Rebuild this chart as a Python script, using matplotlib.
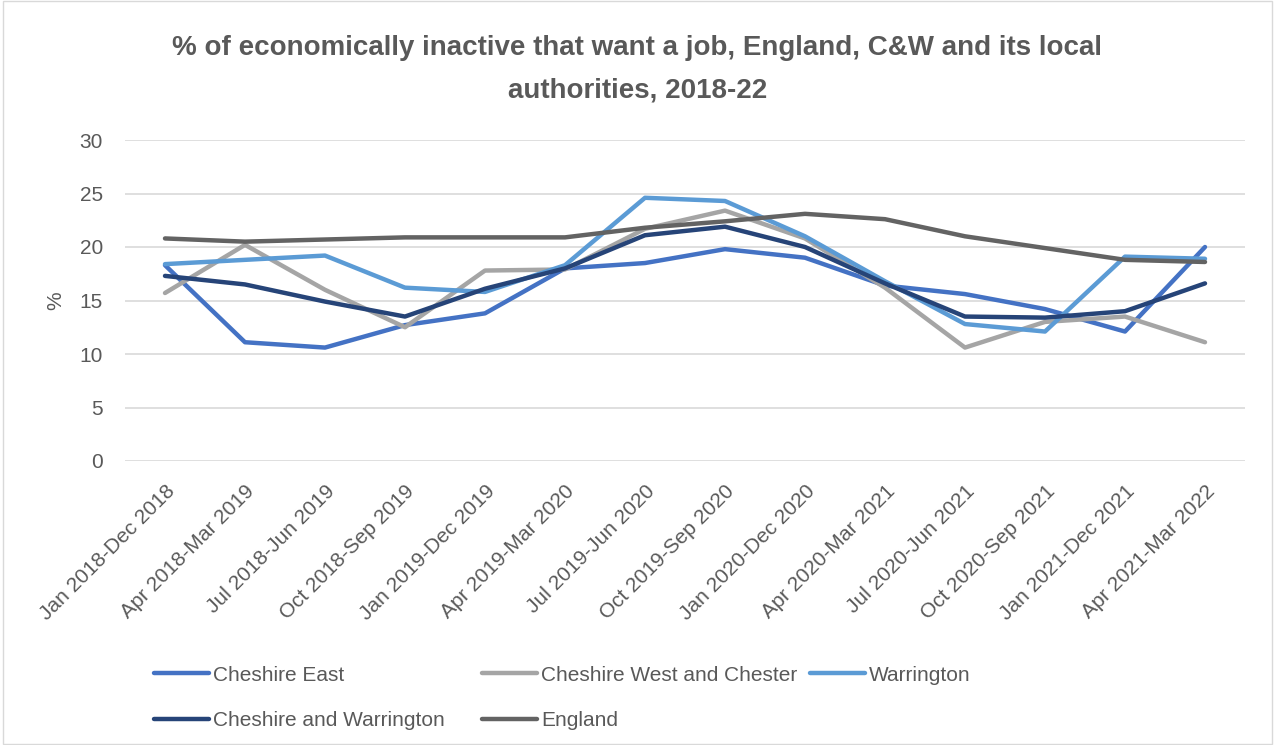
import matplotlib
matplotlib.use("Agg")
import matplotlib.pyplot as plt
from matplotlib.patches import Rectangle

categories = ["Jan 2018-Dec 2018", "Apr 2018-Mar 2019", "Jul 2018-Jun 2019", "Oct 2018-Sep 2019",
              "Jan 2019-Dec 2019", "Apr 2019-Mar 2020", "Jul 2019-Jun 2020", "Oct 2019-Sep 2020",
              "Jan 2020-Dec 2020", "Apr 2020-Mar 2021", "Jul 2020-Jun 2021", "Oct 2020-Sep 2021",
              "Jan 2021-Dec 2021", "Apr 2021-Mar 2022"]

cheshire_east = [18.3, 11.1, 10.6, 12.7, 13.8, 18.0, 18.5, 19.8, 19.0, 16.4, 15.6, 14.2, 12.1, 20.0]
cheshire_west = [15.7, 20.2, 16.0, 12.5, 17.8, 17.9, 21.7, 23.4, 20.8, 16.2, 10.6, 13.0, 13.5, 11.1]
warrington    = [18.4, 18.8, 19.2, 16.2, 15.8, 18.3, 24.6, 24.3, 21.0, 16.8, 12.8, 12.1, 19.1, 18.9]
cheshire_warr = [17.3, 16.5, 14.9, 13.5, 16.1, 18.0, 21.1, 21.9, 20.0, 16.6, 13.5, 13.4, 14.0, 16.6]
england       = [20.8, 20.5, 20.7, 20.9, 20.9, 20.9, 21.8, 22.4, 23.1, 22.6, 21.0, 19.9, 18.8, 18.6]

series = [
    ("Cheshire East", cheshire_east, "#4472C4"),
    ("Cheshire West and Chester", cheshire_west, "#A5A5A5"),
    ("Warrington", warrington, "#5B9BD5"),
    ("Cheshire and Warrington", cheshire_warr, "#264478"),
    ("England", england, "#636363"),
]

FONT = ["Liberation Sans", "DejaVu Sans"]
plt.rcParams["font.family"] = FONT
TXT = "#595959"

fig = plt.figure(figsize=(12.75, 7.45), dpi=100)
fig.patches.append(Rectangle((0.002, 0.002), 0.996, 0.996, transform=fig.transFigure,
                             fill=False, edgecolor="#D9D9D9", linewidth=1))
ax = fig.add_axes([125/1275, 1-461/745, 1120/1275, 321/745])

x = list(range(len(categories)))
handles = {}
for name, vals, col in series:
    ln, = ax.plot(x, vals, color=col, linewidth=3.2, label=name, solid_capstyle="round",
                  solid_joinstyle="round", zorder=3)
    handles[name] = ln

ax.set_xlim(-0.5, len(categories) - 0.5)
ax.set_ylim(0, 30)
ax.set_yticks(range(0, 31, 5))
ax.grid(axis="y", color="#D9D9D9", linewidth=1.2, zorder=0)
for s in ax.spines.values():
    s.set_visible(False)
ax.tick_params(axis="y", length=0, colors=TXT, labelsize=15, pad=16)
ax.set_xticks(x)
ax.set_xticklabels(categories, rotation=45, ha="right", rotation_mode="anchor")
ax.tick_params(axis="x", length=0, colors=TXT, labelsize=15, pad=15)
ax.set_ylabel("%", color=TXT, fontsize=15, labelpad=10)

fig.text(0.5, 1-48/745, "% of economically inactive that want a job, England, C&W and its local",
         ha="center", va="center", fontsize=20, fontweight="bold", color=TXT)
fig.text(0.5, 1-90/745, "authorities, 2018-22",
         ha="center", va="center", fontsize=20, fontweight="bold", color=TXT)

legend_cols = [
    (135, ["Cheshire East", "Cheshire and Warrington"]),
    (463, ["Cheshire West and Chester", "England"]),
    (791, ["Warrington"]),
]
for xpx, names in legend_cols:
    leg = fig.legend([handles[n] for n in names], names, loc="upper left",
                     bbox_to_anchor=(xpx/1275, 1-647/745), ncol=1, frameon=False,
                     fontsize=15, handlelength=2.64, handletextpad=0.2,
                     labelspacing=1.25, labelcolor=TXT)
    for h in leg.get_lines():
        h.set_linewidth(3.2)

fig.savefig("out.png", dpi=100)
